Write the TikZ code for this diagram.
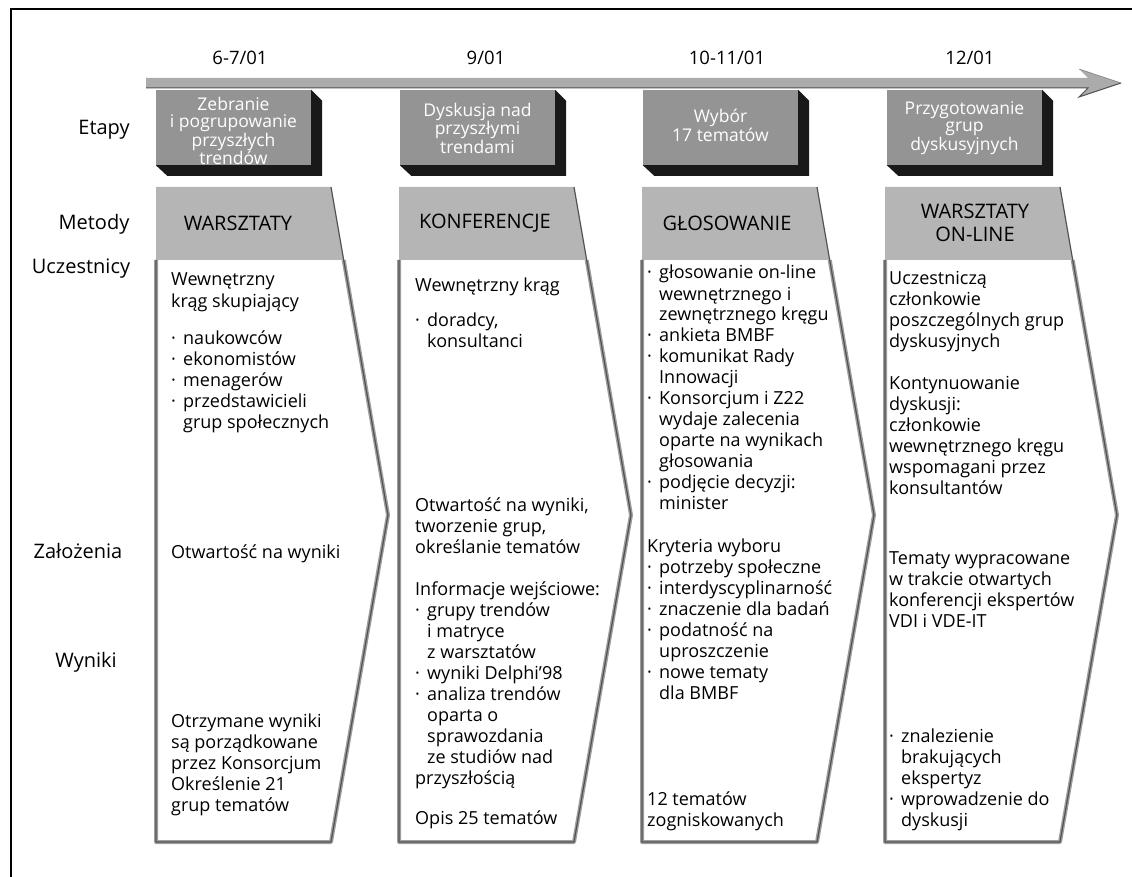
\documentclass[tikz,border=0pt]{standalone}
\usepackage{fontspec}
\setmainfont{Open Sans}
\definecolor{headgray}{gray}{0.71}
\definecolor{stagegray}{gray}{0.58}
\definecolor{shadowblk}{gray}{0.10}
\definecolor{arrowgray}{gray}{0.67}
\definecolor{edgegray}{gray}{0.62}
\definecolor{edgedark}{gray}{0.32}
% paragraph block whose baseline is its first line
\newcommand\blk[1]{\parbox[t]{240pt}{\raggedright #1}}
\newcommand\bu{\makebox[12pt][l]{·}}
\newcommand\ind{\hspace*{12pt}}
\tikzset{
  rowlabel/.style={font=\fontsize{20}{23}\selectfont, inner sep=0},
  datelabel/.style={font=\fontsize{18.5}{20}\selectfont, inner sep=0},
  stagebox/.style={fill=stagegray, minimum width=155, minimum height=75, inner sep=0},
  stagetext/.style={text=white, align=center, inner sep=0,
    font=\fontsize{17.5}{17}\selectfont},
  stageshadow/.style={fill=shadowblk},
  methodhead/.style={font=\fontsize{20}{23}\selectfont, align=center, inner sep=0},
  body/.style={font=\fontsize{18}{21}\selectfont, anchor=base west, inner sep=0},
  frameline/.style={line width=1.5, black},
}
\begin{document}
\begin{tikzpicture}[x=1pt, y=-1pt]
\useasboundingbox (0,0) rectangle (1132,877);

% page frame (top and left rules)
\draw[frameline] (1132,9) -- (11,9) -- (11,877);

% time axis
\fill[arrowgray] (146,78) -- (1088,78) -- (1079,69) -- (1121,83) -- (1079,97)
  -- (1088,88) -- (146,88) -- cycle;
\draw[edgedark, line width=1] (146,88) -- (1088,88) -- (1079,97) -- (1121,83);
\draw[gray, line width=0.5] (1079,69) -- (1121,83);

% dates
\node[datelabel] (d1) at (240,58) {6-7/01};
\node[datelabel] (d2) at (486,58) {9/01};
\node[datelabel] (d3) at (727,58) {10-11/01};
\node[datelabel] (d4) at (970,58) {12/01};

% row labels
\node[rowlabel] (r1) at (104,130) {Etapy};
\node[rowlabel] (r2) at (94,224) {Metody};
\node[rowlabel] (r3) at (81,269) {Uczestnicy};
\node[rowlabel] (r4) at (78,551) {Założenia};
\node[rowlabel] (r5) at (86,662) {Wyniki};

% stage boxes with their dark bevel
\node[stagebox] (s1) at (233.5,127.5) {};
\node[stagebox] (s2) at (477.5,127.5) {};
\node[stagebox] (s3) at (720.5,127.5) {};
\node[stagebox] (s4) at (964.5,127.5) {};
\foreach \s in {s1,s2,s3,s4}{
  \fill[stageshadow] (\s.north east) -- ++(11,11) -- ++(0,75) -- ++(-155,0)
    -- (\s.south west) -- (\s.south east) -- cycle;
}
\node[stagetext] (e1) at (233.5,131) {Zebranie\\i pogrupowanie\\przyszłych\\trendów};
\node[stagetext] (e2) at (477.5,128) {Dyskusja nad\\przyszłymi\\trendami};
\node[stagetext] (e3) at (720.5,125.5) {Wybór\\17 tematów};
\node[stagetext] (e4) at (964.5,128) {Przygotowanie\\grup\\dyskusyjnych};

% method columns (chevrons)
\foreach \L in {156,399,642,885}{
  \fill[white] (\L,187) -- ++(175,0) -- ++(57,328) -- ++(-57,327) -- (\L,842) -- cycle;
  \fill[headgray] (\L,187) -- ++(175,0) -- (\L+187.7,260) -- (\L,260) -- cycle;
  \draw[edgegray, line width=4, line join=round]
    (\L,260) -- (\L,842) -- (\L+175,842) -- (\L+232,515) -- (\L+187.7,260);
  \draw[edgedark, line width=1.2, line join=round]
    (\L+175,187) -- (\L+232,515) -- (\L+175,842) -- (\L,842) -- (\L,260);
}

% method headings
\node[methodhead] (h1) at (238,223) {WARSZTATY};
\node[methodhead] (h2) at (485,223) {KONFERENCJE};
\node[methodhead] (h3) at (727,223) {GŁOSOWANIE};
\node[methodhead] (h4) at (975,223) {WARSZTATY\\ON-LINE};

% column 1
\node[body] (t1a) at (171,286) {\blk{Wewnętrzny\\krąg skupiający}};
\node[body] (t1b) at (171,344) {\blk{\bu naukowców\\\bu ekonomistów\\\bu menagerów\\\bu przedstawicieli\\\ind grup społecznych}};
\node[body] (t1c) at (171,558) {Otwartość na wyniki};
\node[body] (t1d) at (171,727) {\blk{Otrzymane wyniki\\są porządkowane\\przez Konsorcjum\\Określenie 21\\grup tematów}};

% column 2
\node[body] (t2a) at (415,291) {Wewnętrzny krąg};
\node[body] (t2b) at (415,326) {\blk{\bu doradcy,\\\ind konsultanci}};
\node[body] (t2c) at (415,511) {\blk{Otwartość na wyniki,\\tworzenie grup,\\określanie tematów}};
\node[body] (t2d) at (415,595) {\blk{Informacje wejściowe:\\\bu grupy trendów\\\ind i matryce\\\ind z warsztatów\\\bu wyniki Delphi’98\\\bu analiza trendów\\\ind oparta o\\\ind sprawozdania\\\ind ze studiów nad\\przyszłością}};
\node[body] (t2e) at (415,824) {Opis 25 tematów};

% column 3
\node[body] (t3a) at (647,279) {\blk{\bu głosowanie on-line\\\ind wewnętrznego i\\\ind zewnętrznego kręgu\\\bu ankieta BMBF\\\bu komunikat Rady\\\ind Innowacji\\\bu Konsorcjum i Z22\\\ind wydaje zalecenia\\\ind oparte na wynikach\\\ind głosowania\\\bu podjęcie decyzji:\\\ind minister}};
\node[body] (t3b) at (647,552) {\blk{Kryteria wyboru\\\bu potrzeby społeczne\\\bu interdyscyplinarność\\\bu znaczenie dla badań\\\bu podatność na\\\ind uproszczenie\\\bu nowe tematy\\\ind dla BMBF}};
\node[body] (t3c) at (647,805) {\blk{12 tematów\\zogniskowanych}};

% column 4
\node[body] (t4a) at (889,284) {\blk{Uczestniczą\\członkowie\\poszczególnych grup\\dyskusyjnych}};
\node[body] (t4b) at (889,389) {\blk{Kontynuowanie\\dyskusji:\\członkowie\\wewnętrznego kręgu\\wspomagani przez\\konsultantów}};
\node[body] (t4c) at (889,564) {\blk{Tematy wypracowane\\w trakcie otwartych\\konferencji ekspertów\\VDI i VDE-IT}};
\node[body] (t4d) at (889,742) {\blk{\bu znalezienie\\\ind brakujących\\\ind ekspertyz\\\bu wprowadzenie do\\\ind dyskusji}};
\end{tikzpicture}
\end{document}
